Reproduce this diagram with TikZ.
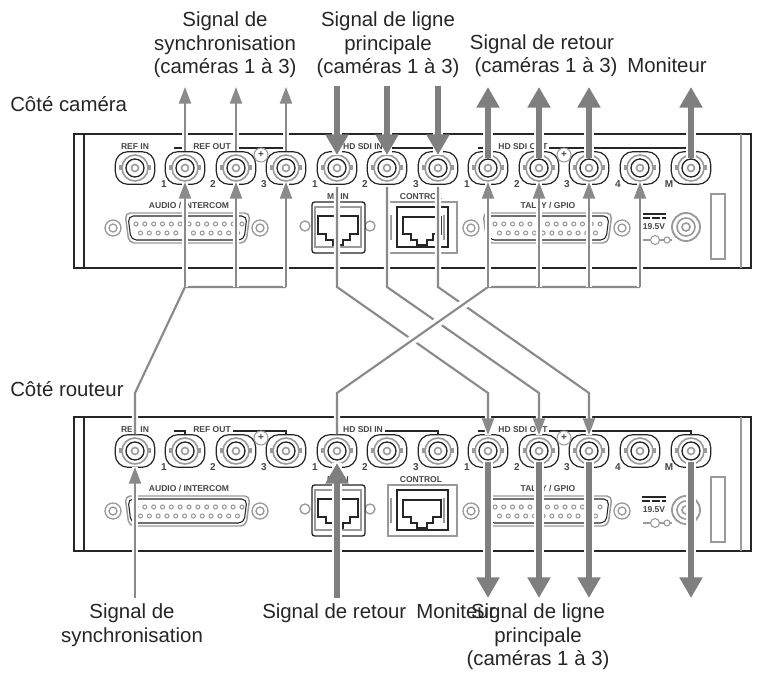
\documentclass[tikz,border=0pt]{standalone}
\usepackage{fontspec}
\setmainfont{Liberation Sans}
\usetikzlibrary{arrows.meta,calc}
\definecolor{ink}{HTML}{262626}
\definecolor{wiregray}{HTML}{8A8A8A}
\definecolor{thickgray}{HTML}{7F7F7F}
\definecolor{soft}{HTML}{9A9A9A}
\tikzset{
  edge/.style={draw=ink,line width=1.2pt},
  fine/.style={draw=ink,line width=.8pt},
  softline/.style={draw=soft,line width=.8pt},
  bncbody/.style={draw=ink,line width=.9pt,fill=white,rounded corners=9.5pt,minimum width=29.5pt,minimum height=24.5pt,inner sep=0pt},
  tiny/.style={font=\bfseries\fontsize{6.4pt}{7pt}\selectfont,text=ink!85,inner sep=0pt},
  digit/.style={font=\bfseries\fontsize{7.5pt}{8pt}\selectfont,text=ink!85,inner sep=0pt},
  label/.style={font=\fontsize{15.3pt}{17.6pt}\selectfont,text=black!85,align=center,inner sep=0pt},
  oneline/.style={label,text height=11pt,text depth=3.5pt},
  thinwire/.style={draw=wiregray,line width=1.6pt,line join=miter,preaction={draw=white,line width=4.6pt,arrows=-}},
  thickwire/.style={draw=thickgray,line width=5.2pt,preaction={draw=white,line width=8pt,arrows=-}},
  smallhead/.style={-{Triangle[length=12.5pt,width=9pt]}},
  bighead/.style={-{Triangle[length=15.5pt,width=16.5pt]}},
  gap/.style={draw=white,line width=7pt},
}
\newcommand{\bncat}[3]{%
  \node[bncbody] (#1) at (#2,#3) {};
  \fill[soft] (#2-16,#3-2.5) rectangle (#2-12,#3+2.5);
  \fill[soft] (#2+12,#3-2.5) rectangle (#2+16,#3+2.5);
  \draw[softline,line width=1.2pt,fill=white] (#2,#3) circle[radius=13];
  \draw[draw=ink,line width=1pt] (#2,#3) circle[radius=9];
  \draw[softline,line width=1.2pt] (#2,#3) circle[radius=3.5];
}
\newcommand{\dsub}[5]{% left, right, first top pin, top pin last, y-less
  \draw[softline,line width=1.1pt,rounded corners=4pt,fill=white] (#1,213) -- (#2,213) -- (#2-4,243) -- (#1+4,243) -- cycle;
  \draw[fine,rounded corners=4pt] (#1+3,216) -- (#2-3,216) -- (#2-6,240) -- (#1+6,240) -- cycle;
  \foreach \i in {0,...,12}{\draw[softline] ({#3+\i*(#4-#3)/12},224) circle[radius=2];}
  \foreach \i in {0,...,11}{\draw[softline] ({#3+4.5+\i*(#4-#3-9)/11},233) circle[radius=2];}
  \foreach \sx in {#1-12,#2+10}{
    \draw[softline,line width=1pt] (\sx,228) circle[radius=8];
    \draw[softline,line width=1pt] (\sx,228) circle[radius=4];
  }
}
\newcommand{\panelbody}[1]{%
  \draw[edge] (74,134) rectangle (751,268);
  \draw[fine] (84,134) -- (84,268);
  \draw[softline,line width=1pt] (741,134) -- (741,268);
  % brackets
  \draw[fine] (174,148) -- (185,148) -- (185,152);
  \draw[fine] (233,148) -- (286,148) -- (286,152);
  \draw[fine] (385,148) -- (438,148) -- (438,152);
  \draw[fine] (478,148) -- (488,148) -- (488,152);
  \draw[fine] (549,148) -- (691,148) -- (691,152);
  % connectors
  \bncat{#10}{135}{168}
  \bncat{#11}{185}{168}
  \bncat{#12}{236}{168}
  \bncat{#13}{286}{168}
  \bncat{#14}{337}{168}
  \bncat{#15}{387}{168}
  \bncat{#16}{438}{168}
  \bncat{#17}{488}{168}
  \bncat{#18}{539}{168}
  \bncat{#19}{589}{168}
  \bncat{#1a}{640}{168}
  \bncat{#1m}{691}{168}
  \draw[softline,fill=white] (261,155) circle[radius=7];
  \node[digit] (#1pa) at (261,155) {+};
  \draw[softline,fill=white] (564,155) circle[radius=7];
  \node[digit] (#1pb) at (564,155) {+};
  % panel captions
  \node[tiny,fill=white,inner xsep=1pt] (#1lrefin) at (135,147) {REF IN};
  \node[tiny,fill=white,inner xsep=1pt] (#1lrefout) at (212,147) {REF OUT};
  \node[tiny,fill=white,inner xsep=1pt] (#1lin) at (363,147) {HD SDI IN};
  \node[tiny,fill=white,inner xsep=1pt] (#1lout) at (523,147) {HD SDI OUT};
  \node[tiny] (#1laudio) at (189,205) {AUDIO / INTERCOM};
  \node[tiny] (#1ltally) at (548,205) {TALLY / GPIO};
  \node[tiny] (#1lmain) at (338,197) {MAIN};
  \node[tiny] (#1lctrl) at (421,197) {CONTROL};
  \node[digit] (#1d1) at (164,184) {1};
  \node[digit] (#1d2) at (213,184) {2};
  \node[digit] (#1d3) at (264,184) {3};
  \node[digit] (#1d4) at (315,184) {1};
  \node[digit] (#1d5) at (365,184) {2};
  \node[digit] (#1d6) at (416,184) {3};
  \node[digit] (#1d7) at (467,184) {1};
  \node[digit] (#1d8) at (517,184) {2};
  \node[digit] (#1d9) at (567,184) {3};
  \node[digit] (#1d10) at (618,184) {4};
  \node[digit] (#1dm) at (669,184) {M};
  % D-subs
  \dsub{125}{250}{136}{242}{}
  \dsub{483}{612}{495}{600}{}
  % MAIN jack
  \draw[softline,line width=1pt,fill=white] (305,226) circle[radius=5];
  \draw[softline,line width=1pt,fill=white] (370,226) circle[radius=5];
  \draw[fine,line width=1pt,fill=white,rounded corners=2pt] (312,202) rectangle (365,253);
  \draw[softline,line width=1.2pt] (315,207) rectangle (361,247);
  \draw[fine] (318,216) -- (358,216) -- (358,234) -- (350,234) -- (350,240) -- (343,240) -- (343,245) -- (333,245) -- (333,240) -- (326,240) -- (326,234) -- (318,234) -- cycle;
  % CONTROL jack
  \draw[softline,line width=1.2pt,fill=white] (388,202) -- (457,202) -- (457,253) -- (388,253) -- cycle;
  \draw[fine,line width=1pt] (397,207) rectangle (448,247);
  \draw[softline] (391,215) -- (391,240);
  \draw[softline] (444,215) -- (444,240);
  \draw[fine] (403,217) -- (441,217) -- (441,234) -- (433,234) -- (433,240) -- (427,240) -- (427,245) -- (417,245) -- (417,240) -- (411,240) -- (411,234) -- (403,234) -- cycle;
  % power
  \draw[fine,line width=1pt] (642,214) -- (666,214);
  \draw[fine,line width=1pt,dash pattern=on 6pt off 1.5pt] (642,218) -- (666,218);
  \node[tiny] (#1lv) at (654,227) {19.5V};
  \draw[softline] (643,240) -- (672,240);
  \draw[softline,fill=white] (655,240) circle[radius=4.5];
  \draw[softline,fill=white] (667,240) circle[radius=3];
  \draw[soft,line width=1.4pt] (686,227) circle[radius=14];
  \draw[soft,line width=1.2pt] (686,227) circle[radius=9];
  \draw[soft,line width=1.2pt] (686,227) circle[radius=4];
  \draw[softline,line width=1.2pt] (711,194) rectangle (725,259);
}
\begin{document}
\begin{tikzpicture}[x=0.75pt,y=-0.75pt]
\useasboundingbox (0,0) rectangle (757,673);
\fill[white] (0,0) rectangle (757,673);

\panelbody{t}
\begin{scope}[yshift=-212.25pt]
\panelbody{b}
\end{scope}

% named free ends
\coordinate (ja) at (t1 |- 0,287);
\coordinate (jb) at (t2 |- 0,287);
\coordinate (jc) at (t3 |- 0,287);
\coordinate (jd) at (t7 |- 0,287);
\coordinate (je) at (t8 |- 0,287);
\coordinate (jf) at (t9 |- 0,287);
\coordinate (jg) at (ta |- 0,287);
\coordinate (ka) at (b0 |- 0,393);
\coordinate (kb) at (b4 |- 0,393);
\coordinate (kc) at (b7 |- 0,393);
\coordinate (kd) at (b8 |- 0,393);
\coordinate (ke) at (b9 |- 0,393);
\coordinate (ma) at (t4 |- 0,287);
\coordinate (mb) at (t5 |- 0,287);
\coordinate (mc) at (t6 |- 0,287);

% main line wires (under the return wire)
\draw[thinwire,smallhead] ($(t4)+(0,19)$) -- (ma) -- (kc) -- ($(b7)+(0,-16)$);
\draw[thinwire,smallhead] ($(t5)+(0,19)$) -- (mb) -- (kd) -- ($(b8)+(0,-16)$);
\draw[thinwire,smallhead] ($(t6)+(0,19)$) -- (mc) -- (ke) -- ($(b9)+(0,-16)$);

% return wire crossing the main wires
\draw[gap] ($(kb)!.12!(jd)$) -- ($(kb)!.95!(jd)$);
\draw[thinwire] (b4) -- (kb) -- (jd) -- (jg);
\draw[thinwire,smallhead] (jd) -- ($(t7)+(0,14)$);
\draw[thinwire,smallhead] (je) -- ($(t8)+(0,14)$);
\draw[thinwire,smallhead] (jf) -- ($(t9)+(0,14)$);
\draw[thinwire,smallhead] (jg) -- ($(ta)+(0,14)$);

% sync wire
\draw[thinwire] (b0) -- (ka) -- (ja) -- (jc);
\draw[thinwire,smallhead] (ja) -- ($(t1)+(0,14)$);
\draw[thinwire,smallhead] (jb) -- ($(t2)+(0,14)$);
\draw[thinwire,smallhead] (jc) -- ($(t3)+(0,14)$);

% sync arrows above the camera side
\draw[thinwire,smallhead] (t1) -- ($(t1)+(0,-81)$);
\draw[thinwire,smallhead] (t2) -- ($(t2)+(0,-81)$);
\draw[thinwire,smallhead] (t3) -- ($(t3)+(0,-81)$);

% main line in
\draw[thickwire,bighead] ($(t4)+(0,-82)$) -- ($(t4)+(0,-13)$);
\draw[thickwire,bighead] ($(t5)+(0,-82)$) -- ($(t5)+(0,-13)$);
\draw[thickwire,bighead] ($(t6)+(0,-82)$) -- ($(t6)+(0,-13)$);

% return and monitor out
\draw[thickwire,bighead] ($(t7)+(0,-10)$) -- ($(t7)+(0,-81)$);
\draw[thickwire,bighead] ($(t8)+(0,-10)$) -- ($(t8)+(0,-81)$);
\draw[thickwire,bighead] ($(t9)+(0,-10)$) -- ($(t9)+(0,-81)$);
\draw[thickwire,bighead] ($(tm)+(0,-10)$) -- ($(tm)+(0,-81)$);

% router side
\draw[thinwire,smallhead] ($(b0)+(0,147)$) -- ($(b0)+(0,16)$);
\draw[thickwire,bighead] ($(b4)+(0,147)$) -- ($(b4)+(0,12)$);
\draw[thickwire,bighead] ($(b7)+(0,11)$) -- ($(b7)+(0,147)$);
\draw[thickwire,bighead] ($(b8)+(0,11)$) -- ($(b8)+(0,147)$);
\draw[thickwire,bighead] ($(b9)+(0,11)$) -- ($(b9)+(0,147)$);
\draw[thickwire,bighead] ($(bm)+(0,11)$) -- ($(bm)+(0,147)$);

% labels
\node[label] (l1) at (225,45) {Signal de\\synchronisation\\(caméras 1 à 3)};
\node[label] (l2) at (388,45) {Signal de ligne\\principale\\(caméras 1 à 3)};
\node[oneline] (l3) at (542,45) {Signal de retour};
\node[oneline] (l4) at (546,68) {(caméras 1 à 3)};
\node[oneline] (l5) at (667,68) {Moniteur};
\node[oneline,anchor=west] (l6) at (10,107) {Côté caméra};
\node[oneline,anchor=west] (l7) at (10,392) {Côté routeur};
\node[label] (l8) at (132,625) {Signal de\\synchronisation};
\node[oneline,anchor=west] (l9) at (262,613) {Signal de retour};
\node[oneline,anchor=west] (l10) at (416,613) {Moniteur};
\node[label] (l11) at (538,637) {Signal de ligne\\principale\\(caméras 1 à 3)};
\end{tikzpicture}
\end{document}
